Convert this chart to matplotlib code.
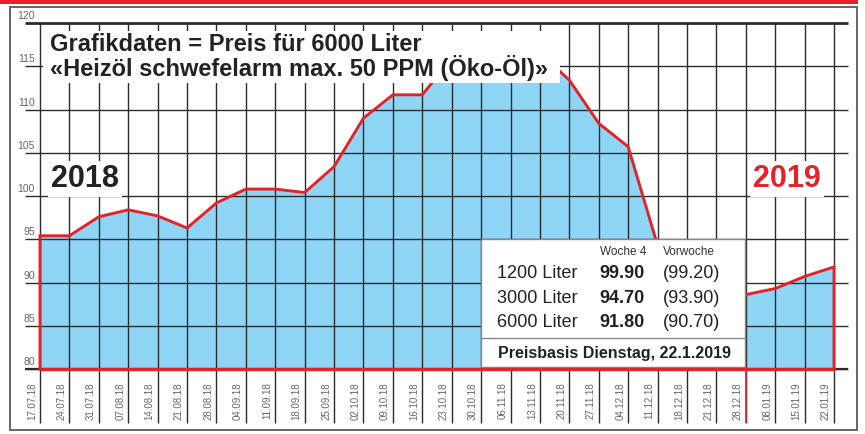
import numpy as np
import matplotlib
matplotlib.use("Agg")
import matplotlib.pyplot as plt
from matplotlib.patches import Rectangle

plt.rcParams['font.family'] = ['Liberation Sans', 'DejaVu Sans']

# weekly dates (x axis) and price for 6000 litres
dates = ["17.07.18", "24.07.18", "31.07.18", "07.08.18", "14.08.18", "21.08.18",
         "28.08.18", "04.09.18", "11.09.18", "18.09.18", "25.09.18", "02.10.18",
         "09.10.18", "16.10.18", "23.10.18", "30.10.18", "06.11.18", "13.11.18",
         "20.11.18", "27.11.18", "04.12.18", "11.12.18", "18.12.18", "21.12.18",
         "28.12.18", "08.01.19", "15.01.19", "22.01.19"]
price = [95.4, 95.4, 97.6, 98.4, 97.7, 96.3, 99.2, 100.8, 100.8, 100.4, 103.4, 109.0,
         111.7, 111.7, 115.9, 117.0, 117.6, 116.5, 113.4, 108.4, 105.7, 94.3, 90.5, 89.2,
         88.6, 89.3, 90.7, 91.8]
yticks = [80, 85, 90, 95, 100, 105, 110, 115, 120]

# price table
tab_sizes = ["1200 Liter", "3000 Liter", "6000 Liter"]
tab_now = ["99.90", "94.70", "91.80"]
tab_prev = ["(99.20)", "(93.90)", "(90.70)"]
tab_week = "Woche 4"
tab_prevhead = "Vorwoche"
tab_basis = "Preisbasis Dienstag, 22.1.2019"

title1 = "Grafikdaten = Preis für 6000 Liter"
title2 = "«Heizöl schwefelarm max. 50 PPM (Öko-Öl)»"

RED = "#e3232a"
BLUE = "#8fd6f6"
GRID = "#2b2b2b"
GRAY = "#666666"

W, H = 865, 434
fig = plt.figure(figsize=(W / 100, H / 100), dpi=100)
ax = fig.add_axes([0, 0, 1, 1])

# map: index 0 -> px 40, last index -> px 834 ; 80 -> px 369, 120 -> px 23
n = len(dates)
sx = (834 - 40) / (n - 1)
sy = (369 - 23) / 40
XL, XR = -40 / sx, (n - 1) + (W - 834) / sx
YT = 120 + 23 / sy
YB = YT - H / sy
ax.set_xlim(XL, XR)
ax.set_ylim(YB, YT)
ax.axis('off')


def dx(px):
    return XL + px / sx


def dy(py):
    return YT - py / sy


idx = np.arange(n)

# top red bar and outer frame
fig.add_artist(Rectangle((0, 1 - 4 / H), 858 / W, 4 / H, transform=fig.transFigure,
                         color=RED, lw=0))
ax.add_patch(Rectangle((dx(10), dy(430)), (857 - 10) / sx, (430 - 7) / sy,
                       fill=False, ec=GRAY, lw=1.4, zorder=1))

# area
ax.fill_between(idx, 80, price, color=BLUE, lw=0, zorder=1)

# grid
ax.hlines(yticks[:-1], dx(25), dx(848), color=GRID, lw=1.0, zorder=2)
ax.hlines(120, dx(25), dx(848), color=GRID, lw=2.0, zorder=2)
ax.hlines(80, dx(25), dx(848), color=GRID, lw=1.6, zorder=2)
ax.vlines(idx, dy(423), 120, color=GRID, lw=1.0, zorder=2)
ax.vlines(idx[24], dy(423), 80, color=RED, lw=1.2, zorder=3)

# red outline
ax.plot(np.r_[0, idx, n - 1], np.r_[80, price, 80], color=RED, lw=2.1, zorder=3,
        solid_joinstyle='miter')

# tick labels
for v in yticks:
    ax.text(dx(35), v + 4 / sy, str(v), ha='right', va='baseline', fontsize=7.5,
            color=GRAY, zorder=4)
for i, d in enumerate(dates):
    ax.text(i - 8 / sx, dy(382), d, rotation=90, ha='center', va='top', fontsize=7,
            color=GRAY, zorder=4)

# title box
ax.add_patch(Rectangle((dx(43), dy(83)), (560 - 43) / sx, (83 - 31) / sy,
                       fc='white', ec='none', zorder=5))
ax.text(dx(50), dy(51), title1, fontsize=17, fontweight='bold', color='#222222',
        va='baseline', zorder=6)
ax.text(dx(50), dy(76), title2, fontsize=17, fontweight='bold', color='#222222',
        va='baseline', zorder=6)

# year labels
ax.text(dx(85), dy(187), "2018", fontsize=22, fontweight='bold', color='#222222',
        ha='center', va='baseline', zorder=6,
        bbox=dict(fc='white', ec='none', pad=2))
ax.text(dx(787), dy(187), "2019", fontsize=22, fontweight='bold', color=RED,
        ha='center', va='baseline', zorder=6,
        bbox=dict(fc='white', ec='none', pad=2))

# price table
ax.add_patch(Rectangle((dx(481), dy(367)), (745 - 481) / sx, (367 - 239) / sy,
                       fc='white', ec='#888888', lw=1.0, zorder=5))
ax.hlines(dy(338), dx(481), dx(745), color='#888888', lw=1.0, zorder=6)
ax.text(dx(600), dy(255), tab_week, fontsize=8.5, color='#333333', va='baseline',
        zorder=6)
ax.text(dx(663), dy(255), tab_prevhead, fontsize=8.5, color='#333333', va='baseline',
        zorder=6)
for k, base in enumerate([278, 303, 327]):
    ax.text(dx(497), dy(base), tab_sizes[k], fontsize=13, color='#222222',
            va='baseline', zorder=6)
    ax.text(dx(599), dy(base), tab_now[k], fontsize=13, fontweight='bold',
            color='#222222', va='baseline', zorder=6)
    ax.text(dx(663), dy(base), tab_prev[k], fontsize=13, color='#222222',
            va='baseline', zorder=6)
ax.text(dx(498), dy(358), tab_basis, fontsize=11.5, fontweight='bold',
        color='#222222', va='baseline', zorder=6)

# bottom red line over the table edge
ax.hlines(80, idx[0], idx[-1], color=RED, lw=2.4, zorder=7)

fig.savefig("out.png", dpi=100)
